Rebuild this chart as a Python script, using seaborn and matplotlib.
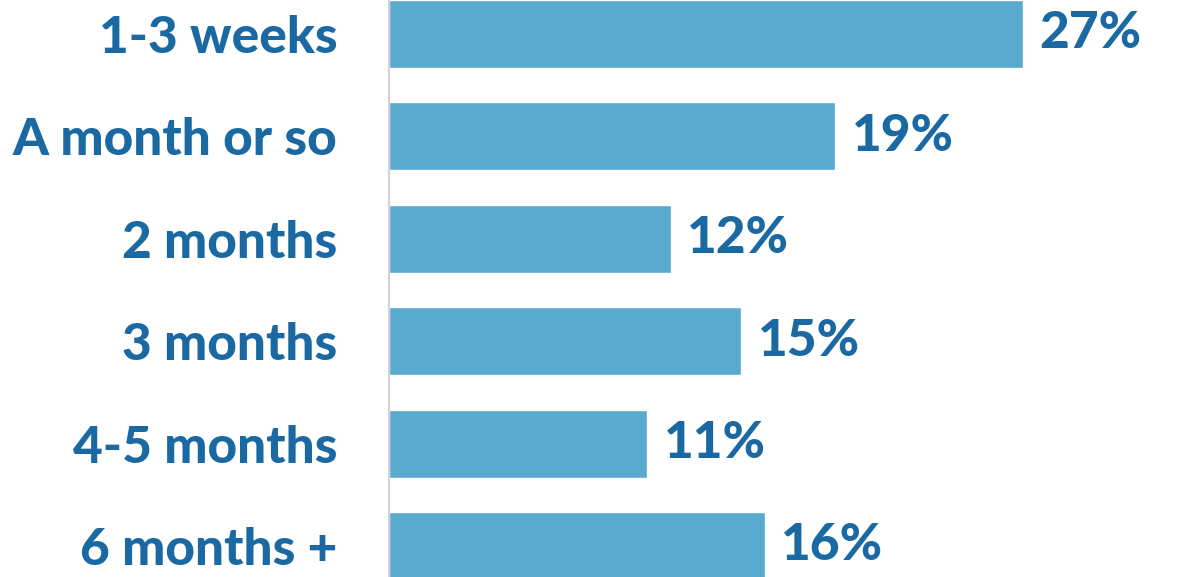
import matplotlib
matplotlib.use("Agg")
import matplotlib.pyplot as plt
import seaborn as sns
import pandas as pd

categories = ["1-3 weeks", "A month or so", "2 months", "3 months", "4-5 months", "6 months +"]
values = [27, 19, 12, 15, 11, 16]
value_labels = ["27%", "19%", "12%", "15%", "11%", "16%"]

BAR_COLOR = "#58AACF"
TEXT_COLOR = "#1A69A3"
FONT = ["Lato", "DejaVu Sans"]

sns.set_theme(style="white")
plt.rcParams["font.family"] = FONT

df = pd.DataFrame({"category": categories, "value": values})

fig = plt.figure(figsize=(11.78, 5.77), dpi=100)
ax = fig.add_axes([389 / 1178, 0, 1 - 389 / 1178, 1])

sns.barplot(data=df, x="value", y="category", orient="h", color=BAR_COLOR,
            saturation=1, width=0.664, ax=ax)

ax.set_xlim(0, 789 / 23.48)
ax.set_ylim(5.303, -0.332)

for i, (v, lab) in enumerate(zip(values, value_labels)):
    ax.text(v + 0.7, i, lab, va="center", ha="left", color=TEXT_COLOR,
            fontsize=37, fontweight="black", family=FONT)

ax.set_xlabel("")
ax.set_ylabel("")
ax.set_xticks([])
ax.tick_params(axis="y", length=0, pad=37)
for t in ax.get_yticklabels():
    t.set_color(TEXT_COLOR)
    t.set_fontsize(37)
    t.set_fontweight("black")

for side in ["top", "right", "bottom"]:
    ax.spines[side].set_visible(False)
ax.spines["left"].set_color("#D3D3D3")
ax.spines["left"].set_linewidth(1.5)

fig.savefig("out.png", dpi=100)
